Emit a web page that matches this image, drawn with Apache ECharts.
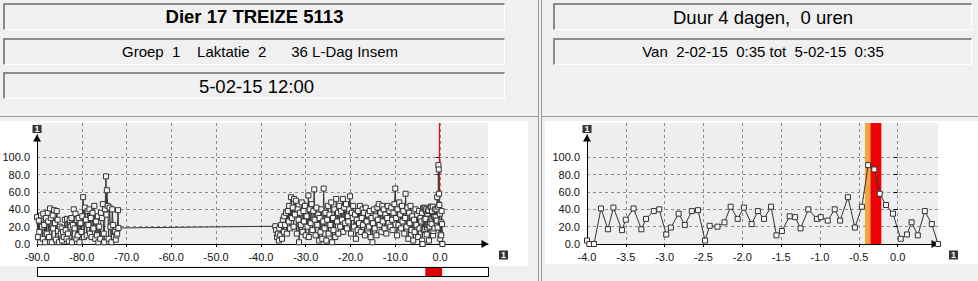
<!DOCTYPE html>
<html><head><meta charset="utf-8">
<script src="https://cdn.jsdelivr.net/npm/echarts@6/dist/echarts.min.js"></script>
<style>
html,body{margin:0;padding:0;width:978px;height:281px;overflow:hidden;background:#f0f0f0;font-family:"Liberation Sans",Arial,sans-serif;}
.box{position:absolute;box-sizing:border-box;border-top:2px solid #8a8a8a;border-left:2px solid #8a8a8a;border-bottom:1px solid #fff;border-right:1px solid #fff;background:#f0f0f0;text-align:center;color:#000;white-space:pre;}
.line{position:absolute;background:#9a9a9a;}
.panel{position:absolute;background:#fff;}
#chart{position:absolute;left:0;top:0;width:978px;height:281px;}
</style></head>
<body>
<div class="box" style="left:3px;top:3px;width:502px;height:27px;font-weight:bold;font-size:18.5px;line-height:24px;">Dier 17 TREIZE 5113</div>
<div class="box" style="left:3px;top:38px;width:502px;height:27px;font-size:15px;line-height:23px;padding-left:11px;">Groep  1    Laktatie  2      36 L-Dag Insem</div>
<div class="box" style="left:3px;top:72px;width:502px;height:27px;font-size:18.5px;line-height:25px;padding-left:4px;">5-02-15 12:00</div>
<div class="box" style="left:553px;top:3px;width:419px;height:27px;font-size:18.5px;line-height:25px;">Duur 4 dagen,  0 uren</div>
<div class="box" style="left:553px;top:38px;width:419px;height:27px;font-size:15px;line-height:23px;">Van  2-02-15  0:35 tot  5-02-15  0:35</div>
<div class="line" style="left:538px;top:0;width:1px;height:281px;"></div>
<div class="line" style="left:541px;top:0;width:1px;height:281px;"></div>
<div class="line" style="left:0;top:116px;width:538px;height:1px;"></div>
<div class="line" style="left:542px;top:116px;width:436px;height:1px;"></div>
<div class="panel" style="left:0;top:121px;width:528px;height:145px;"></div>
<div class="panel" style="left:545px;top:121px;width:433px;height:143px;"></div>
<div id="chart"></div>
<script>
// ---- data (days relative to now, activity value) ----
const windowPoints = [
  [-4.00,4],[-3.97,0],[-3.91,0],[-3.82,41],[-3.73,17],[-3.66,42],[-3.55,16],[-3.50,28],[-3.40,41],[-3.30,17],
  [-3.24,29],[-3.14,38],[-3.07,40],[-2.98,11],[-2.92,19],[-2.82,35],[-2.74,22],[-2.65,38],[-2.57,39],[-2.48,4],
  [-2.42,21],[-2.32,20],[-2.23,25],[-2.15,43],[-2.06,29],[-1.98,42],[-1.88,23],[-1.80,38],[-1.72,29],[-1.63,43],
  [-1.56,10],[-1.49,15],[-1.39,32],[-1.32,31],[-1.25,18],[-1.15,40],[-1.04,29],[-0.99,31],[-0.90,27],[-0.81,40],
  [-0.74,27],[-0.64,54],[-0.55,19],[-0.46,43],[-0.38,91],[-0.30,86],[-0.23,58],[-0.15,45],[-0.06,35],[0.04,6],
  [0.12,11],[0.18,25],[0.26,10],[0.35,38],[0.44,23],[0.52,0]
];
const historyPoints = [
  [-90.0,31],[-89.8,8],[-89.6,27],[-89.5,14],[-89.3,2],[-89.1,33],[-88.9,20],[-88.7,6],[-88.6,35],[-88.4,22],
  [-88.2,2],[-88.0,30],[-87.8,12],[-87.6,36],[-87.5,26],[-87.3,8],[-87.1,41],[-86.9,30],[-86.7,2],[-86.5,33],
  [-86.4,18],[-86.2,39],[-86.0,24],[-85.8,5],[-85.6,38],[-85.4,28],[-85.3,15],[-85.1,2],[-84.9,20],[-84.7,12],
  [-84.5,18],[-84.4,4],[-84.2,14],[-84.0,8],[-83.8,28],[-83.6,16],[-83.4,6],[-83.3,29],[-83.1,12],[-82.9,3],
  [-82.7,28],[-82.5,20],[-82.3,30],[-82.2,2],[-82.0,22],[-81.8,40],[-81.6,18],[-81.4,35],[-81.2,6],[-81.1,28],
  [-80.9,10],[-80.7,30],[-80.5,2],[-80.3,24],[-80.1,14],[-79.9,32],[-79.7,54],[-79.5,8],[-79.3,42],[-79.1,28],
  [-78.9,10],[-78.7,38],[-78.5,22],[-78.3,40],[-78.2,12],[-78.0,30],[-77.8,8],[-77.6,36],[-77.4,18],[-77.2,44],
  [-77.0,6],[-76.8,26],[-76.6,10],[-76.4,32],[-76.3,2],[-76.1,20],[-75.9,6],[-75.7,36],[-75.5,30],[-75.3,46],
  [-75.1,12],[-75.0,2],[-74.8,40],[-74.6,78],[-74.5,34],[-74.4,62],[-74.2,44],[-74.0,6],[-73.8,42],[-73.6,20],
  [-73.4,2],[-73.2,40],[-73.0,22],[-72.8,8],[-72.6,14],[-72.4,5],[-72.3,10],[-72.1,12],[-71.9,39],[-71.8,18.5],
  [-36.8,20.5],[-36.6,16],[-36.4,8],[-36.2,12],[-36.0,4],[-35.9,18],[-35.7,10],[-35.5,22],[-35.3,6],[-35.1,28],
  [-34.9,14],[-34.8,32],[-34.6,22],[-34.4,36],[-34.2,12],[-34.0,38],[-33.8,26],[-33.7,44],[-33.5,18],[-33.3,54],
  [-33.1,30],[-32.9,42],[-32.7,20],[-32.6,52],[-32.4,34],[-32.2,50],[-32.0,12],[-31.8,40],[-31.6,28],[-31.5,2],
  [-31.3,36],[-31.1,22],[-30.9,48],[-30.7,14],[-30.5,38],[-30.4,26],[-30.2,44],[-30.0,10],[-29.8,32],[-29.6,20],
  [-29.4,56],[-29.3,8],[-29.1,40],[-28.9,24],[-28.7,46],[-28.5,16],[-28.3,38],[-28.1,63],[-28.0,28],[-27.8,10],
  [-27.6,42],[-27.4,22],[-27.2,34],[-27.0,4],[-26.9,30],[-26.7,14],[-26.5,40],[-26.3,6],[-26.1,26],[-26.0,64],
  [-25.8,18],[-25.6,36],[-25.4,4],[-25.2,28],[-25.0,44],[-24.9,12],[-24.7,34],[-24.5,22],[-24.3,48],[-24.1,2],
  [-23.9,30],[-23.8,16],[-23.6,40],[-23.4,8],[-23.2,52],[-23.0,26],[-22.8,36],[-22.7,12],[-22.5,44],[-22.3,20],
  [-22.1,38],[-21.9,28],[-21.7,52],[-21.6,14],[-21.4,42],[-21.2,24],[-21.0,46],[-20.8,18],[-20.6,32],[-20.5,26],
  [-20.3,40],[-20.1,55],[-19.9,12],[-19.7,36],[-19.5,30],[-19.4,44],[-19.2,20],[-19.0,34],[-18.8,6],[-18.6,28],
  [-18.4,16],[-18.3,38],[-18.1,24],[-17.9,44],[-17.7,14],[-17.5,30],[-17.3,40],[-17.2,22],[-17.0,36],[-16.8,10],
  [-16.6,42],[-16.4,26],[-16.2,18],[-16.1,34],[-15.9,20],[-15.7,38],[-15.5,8],[-15.3,30],[-15.1,2],[-15.0,24],
  [-14.8,40],[-14.6,18],[-14.4,32],[-14.2,10],[-14.0,42],[-13.9,28],[-13.7,46],[-13.5,22],[-13.3,36],[-13.1,14],
  [-12.9,44],[-12.8,26],[-12.6,40],[-12.4,18],[-12.2,34],[-12.0,12],[-11.8,30],[-11.7,44],[-11.5,24],[-11.3,38],
  [-11.1,20],[-10.9,42],[-10.7,28],[-10.6,16],[-10.4,36],[-10.2,46],[-10.0,64],[-9.8,30],[-9.6,10],[-9.5,40],
  [-9.3,22],[-9.1,48],[-8.9,34],[-8.7,18],[-8.5,44],[-8.4,26],[-8.2,38],[-8.0,12],[-7.8,30],[-7.7,58],
  [-7.5,20],[-7.3,42],[-7.1,6],[-6.9,36],[-6.8,24],[-6.6,44],[-6.4,16],[-6.2,32],[-6.0,4],[-5.8,28],
  [-5.7,14],[-5.5,40],[-5.3,22],[-5.1,34],[-4.9,8],[-4.7,38],[-4.6,18],[-4.4,30],[-4.2,26],[-4.05,36]
];
const leftXTicks = [-90,-80,-70,-60,-50,-40,-30,-20,-10,0];
const rightXTicks = [-4,-3.5,-3,-2.5,-2,-1.5,-1,-0.5,0];
const yTicks = [0,20,40,60,80,100];
const leftRange = [-90, 10.7];
const rightRange = [-4, 0.52];
const yRange = [0, 139.6];
const orangeBand = [-0.42, -0.35];
const redBand = [-0.35, -0.21];
const scrollWindow = [-3.3, 0.45];

const chart = echarts.init(document.getElementById('chart'), null, {renderer:'svg'});
const FONT = '"Liberation Sans", Arial, sans-serif';
const gridBg = '#eeeeee';
const gridLine = {show:true, showMinLine:false, lineStyle:{color:'#8c8c8c', type:[3,3], width:1}};
const lbl = {color:'#111', fontSize:11, fontFamily:FONT};

function xAxisMain(grid, range, ticks){
  return {type:'value', gridIndex:grid, min:range[0], max:range[1],
    axisLine:{show:true, symbol:['none','triangle'], symbolSize:[8,7], symbolOffset:[0,-3], lineStyle:{color:'#000', width:1}},
    axisTick:{show:true, length:3, customValues:ticks, lineStyle:{color:'#000'}},
    axisLabel:Object.assign({customValues:ticks, margin:7, formatter:v=>v.toFixed(1)}, lbl),
    splitLine:gridLine,
    name:'{b|1}', nameLocation:'end', nameGap:11,
    nameTextStyle:{align:'left', verticalAlign:'top', padding:[7,0,0,0],
      rich:{b:{backgroundColor:'#333', color:'#fff', fontSize:9, fontWeight:'bold', fontFamily:FONT, padding:[0,2,0,2], lineHeight:8}}}
  };
}
function yAxisMain(grid){
  return {type:'value', gridIndex:grid, min:yRange[0], max:yRange[1],
    axisLine:{show:false},
    axisTick:{show:true, length:4, customValues:yTicks, lineStyle:{color:'#000'}},
    axisLabel:Object.assign({customValues:yTicks, margin:7, formatter:v=>v.toFixed(1)}, lbl),
    splitLine:gridLine};
}
function yArrow(grid){
  return {type:'value', gridIndex:grid, min:0, max:1,
    axisLine:{show:true, symbol:['none','triangle'], symbolSize:[8,7], symbolOffset:[0,-3], lineStyle:{color:'#000', width:1}},
    axisTick:{show:false}, axisLabel:{show:false}, splitLine:{show:false},
    name:'1', nameLocation:'end', nameGap:2,
    nameTextStyle:{backgroundColor:'#333', color:'#fff', fontSize:9, fontWeight:'bold', fontFamily:FONT, padding:[0,2,0,2], lineHeight:8}};
}
const symStyle = {color:'#f6f6f6', borderColor:'#333', borderWidth:1};

const option = {
  animation:false,
  grid:[
    {left:37, top:123, width:451, height:121, show:true, backgroundColor:gridBg, borderWidth:0, outerBoundsMode:'none'},
    {left:37, top:135, width:451, height:109, outerBoundsMode:'none'},
    {left:587, top:123, width:351, height:121, show:true, backgroundColor:gridBg, borderWidth:0, outerBoundsMode:'none'},
    {left:587, top:135, width:351, height:109, outerBoundsMode:'none'}
  ],
  xAxis:[
    xAxisMain(0, leftRange, leftXTicks),
    {type:'value', gridIndex:1, show:false, min:0, max:1},
    xAxisMain(2, rightRange, rightXTicks),
    {type:'value', gridIndex:3, show:false, min:0, max:1}
  ],
  yAxis:[ yAxisMain(0), yArrow(1), yAxisMain(2), yArrow(3) ],
  series:[
    {type:'line', xAxisIndex:0, yAxisIndex:0, data:historyPoints.concat(windowPoints),
      symbol:'rect', symbolSize:5, itemStyle:symStyle, lineStyle:{color:'#333', width:1}, z:3,
      markLine:{silent:true, symbol:['none','none'], label:{show:false}, z:1,
        lineStyle:{color:'#ff0000', width:1.2, type:'solid', opacity:1},
        emphasis:{disabled:true},
        data:[{xAxis:(redBand[0]+redBand[1])/2, lineStyle:{color:'#ff0000'}}]}},
    {type:'line', xAxisIndex:2, yAxisIndex:2, data:windowPoints,
      symbol:'rect', symbolSize:5, itemStyle:symStyle, lineStyle:{color:'#333', width:1}, z:3,
      markArea:{silent:true, data:[
        [{xAxis:orangeBand[0], itemStyle:{color:'#f7a43e'}},{xAxis:orangeBand[1]}],
        [{xAxis:redBand[0], itemStyle:{color:'#f00000'}},{xAxis:redBand[1]}]
      ]}}
  ]
};
chart.setOption(option);

const sx0 = chart.convertToPixel({xAxisIndex:0}, leftRange[0]);
const sx1 = chart.convertToPixel({xAxisIndex:0}, leftRange[1]);
const wx0 = chart.convertToPixel({xAxisIndex:0}, scrollWindow[0]);
const wx1 = chart.convertToPixel({xAxisIndex:0}, scrollWindow[1]);
chart.setOption({graphic:[
  {type:'rect', shape:{x:sx0+0.5, y:267.5, width:sx1-sx0, height:9}, style:{fill:'#fff', stroke:'#000', lineWidth:1}},
  {type:'rect', shape:{x:wx0, y:268, width:wx1-wx0, height:8}, style:{fill:'#e00000'}}
]});
</script>
</body></html>
